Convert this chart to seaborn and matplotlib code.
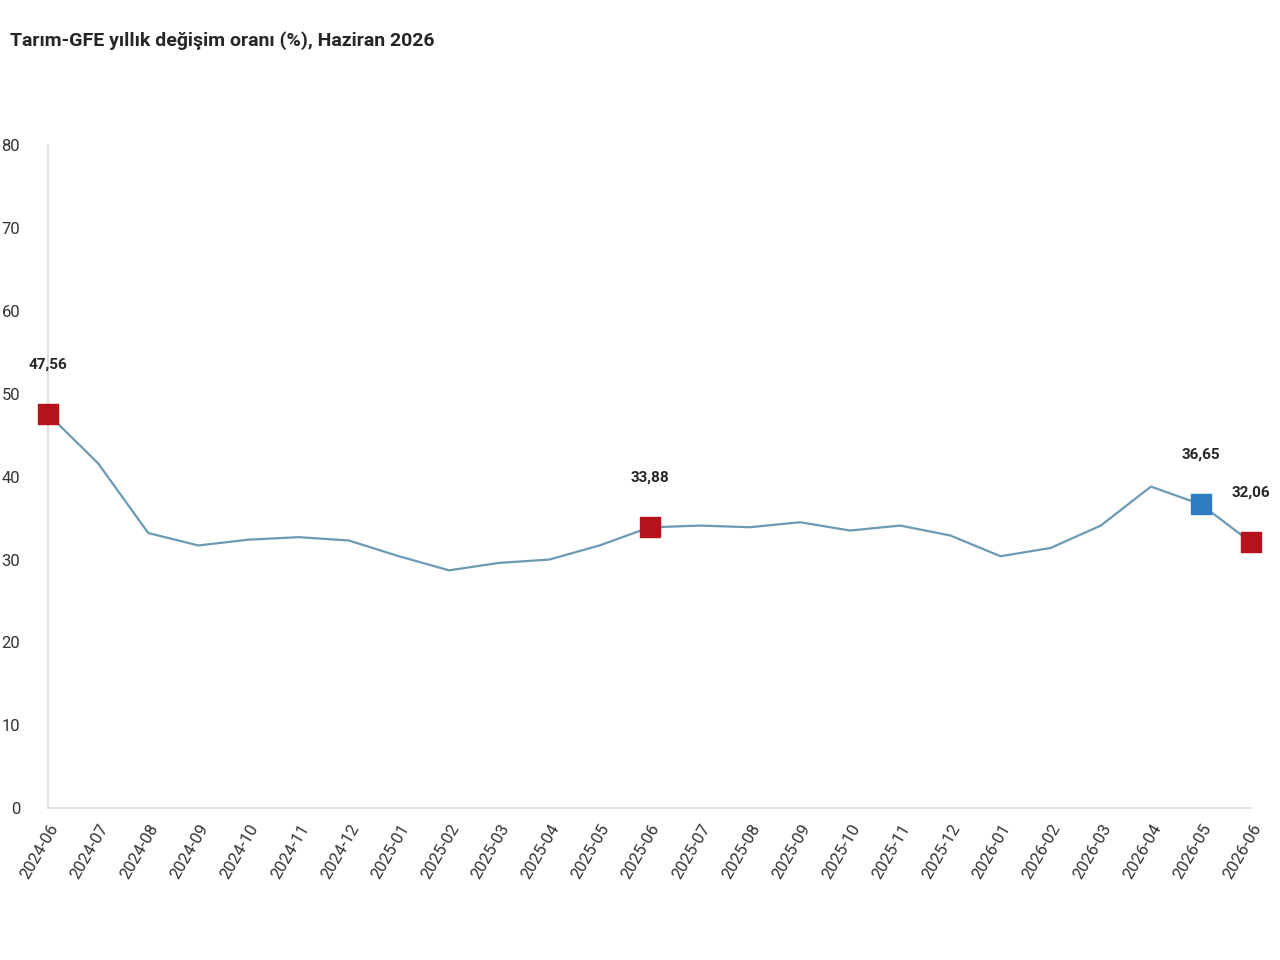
import matplotlib
matplotlib.use("Agg")
import matplotlib.pyplot as plt
import seaborn as sns
import pandas as pd

months = ["2024-06","2024-07","2024-08","2024-09","2024-10","2024-11","2024-12",
          "2025-01","2025-02","2025-03","2025-04","2025-05","2025-06","2025-07",
          "2025-08","2025-09","2025-10","2025-11","2025-12","2026-01","2026-02",
          "2026-03","2026-04","2026-05","2026-06"]
values = [47.56,41.6,33.2,31.7,32.4,32.7,32.3,30.4,28.7,29.6,30.0,31.7,33.88,34.1,
          33.9,34.5,33.5,34.1,32.9,30.4,31.4,34.1,38.8,36.65,32.06]
red_idx = [0, 12, 24]
blue_idx = [23]

sns.set_theme(style="white")
plt.rcParams['font.family'] = ['Roboto', 'DejaVu Sans']

df = pd.DataFrame({"x": range(len(months)), "y": values})
fig = plt.figure(figsize=(12.8, 9.6), dpi=100)
ax = fig.add_axes([0.0375, 0.158, 0.94, 0.691])
sns.lineplot(data=df, x="x", y="y", ax=ax, color="#6a9ab5", linewidth=1.6)
for idxs, col in [(red_idx, "#b5121b"), (blue_idx, "#2e7bbf")]:
    ax.scatter([df.x[i] for i in idxs], [df.y[i] for i in idxs], marker="s", s=200,
               color=col, zorder=5, clip_on=False)
for i in red_idx + blue_idx:
    ax.annotate(f"{values[i]:.2f}".replace(".", ","), (i, values[i]), xytext=(0, 33),
                textcoords="offset points", ha="center", fontsize=11, fontweight="bold",
                fontstretch="condensed")
ax.set_xlim(0, len(months) - 1)
ax.set_ylim(0, 80)
ax.set_yticks(range(0, 81, 10))
ax.set_xticks(range(len(months)))
ax.set_xticklabels(months, rotation=60, ha="right", rotation_mode="anchor", fontsize=12, color="#333333")
ax.tick_params(axis="y", labelsize=12, labelcolor="#333333", pad=14)
ax.set_xlabel(""); ax.set_ylabel("")
for s in ["top", "right"]:
    ax.spines[s].set_visible(False)
for s in ["left", "bottom"]:
    ax.spines[s].set_color("#dddddd")
fig.text(0.008, 0.958, "Tarım-GFE yıllık değişim oranı (%), Haziran 2026", fontsize=14,
         fontweight="bold", ha="left", va="center")
fig.savefig("out.png", dpi=100)
